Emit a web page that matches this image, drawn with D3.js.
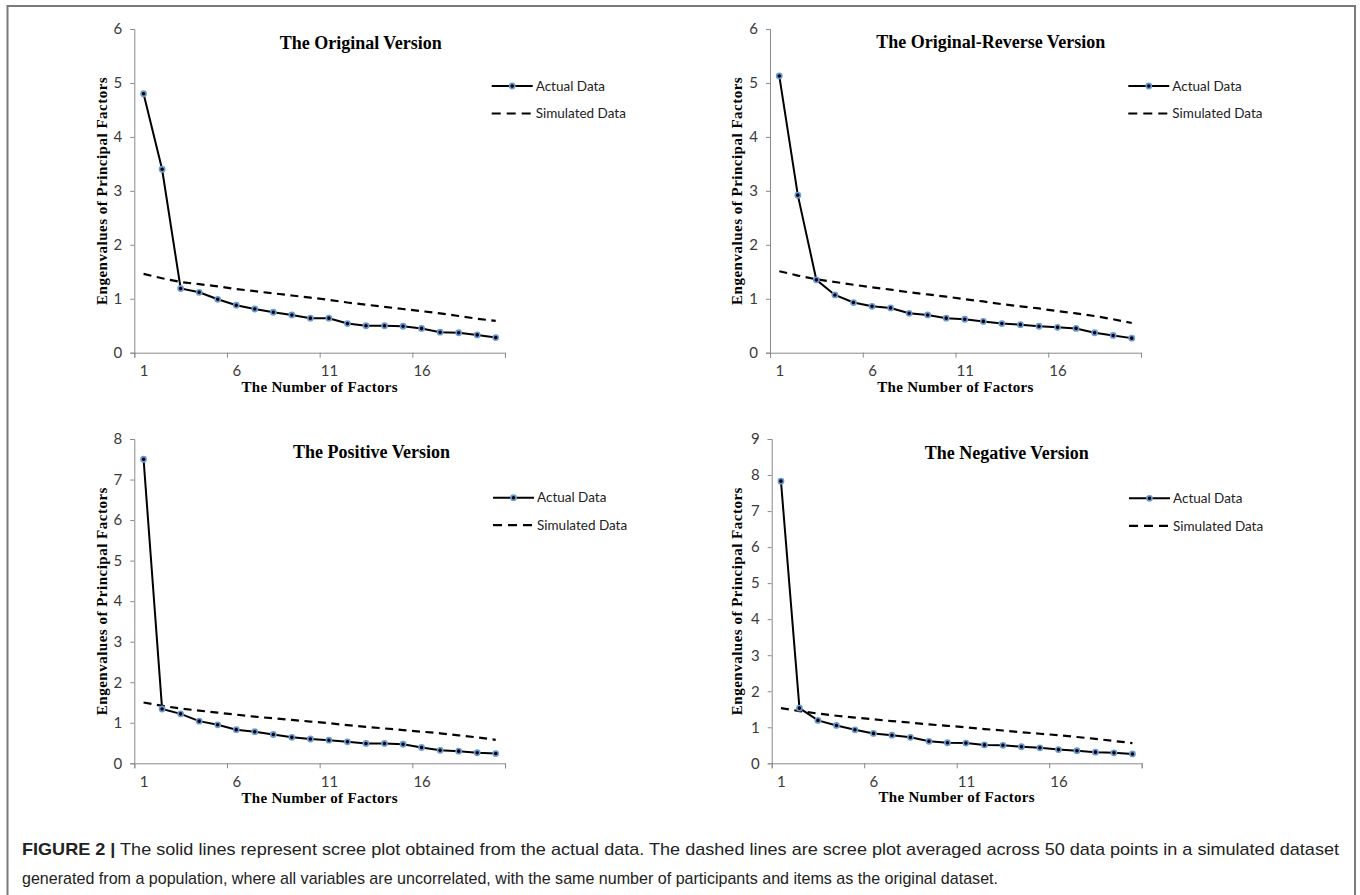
<!DOCTYPE html>
<html>
<head>
<meta charset="utf-8">
<script src="https://cdn.jsdelivr.net/npm/d3@7"></script>
<style>
  body { margin: 0; background: #fff; }
  svg { display: block; }
</style>
</head>
<body>
<svg id="fig" width="1360" height="895"></svg>
<script>
// data
var factors = [1, 2, 3, 4, 5, 6, 7, 8, 9, 10, 11, 12, 13, 14, 15, 16, 17, 18, 19, 20];
var xTickLabels = [1, 6, 11, 16];
var seriesNames = ["Actual Data", "Simulated Data"];
var panelTitles = ["The Original Version", "The Original-Reverse Version", "The Positive Version", "The Negative Version"];
var yMaxes = [6, 6, 8, 9];

var originalActual = [4.80, 3.40, 1.19, 1.12, 0.99, 0.88, 0.81, 0.75, 0.70, 0.64, 0.64, 0.54, 0.50, 0.50, 0.49, 0.45, 0.38, 0.37, 0.33, 0.28];
var originalSimulated = [1.46, 1.38, 1.31, 1.27, 1.23, 1.18, 1.14, 1.10, 1.06, 1.02, 0.98, 0.93, 0.89, 0.85, 0.81, 0.77, 0.73, 0.68, 0.63, 0.59];

var reverseActual = [5.13, 2.92, 1.35, 1.07, 0.93, 0.86, 0.83, 0.73, 0.70, 0.64, 0.62, 0.58, 0.54, 0.52, 0.49, 0.47, 0.45, 0.37, 0.32, 0.27];
var reverseSimulated = [1.51, 1.43, 1.36, 1.31, 1.26, 1.21, 1.17, 1.12, 1.08, 1.04, 0.99, 0.95, 0.90, 0.86, 0.82, 0.77, 0.73, 0.68, 0.62, 0.55];

var positiveActual = [7.50, 1.34, 1.22, 1.04, 0.95, 0.83, 0.78, 0.71, 0.64, 0.60, 0.57, 0.53, 0.49, 0.49, 0.47, 0.39, 0.32, 0.30, 0.26, 0.24];
var positiveSimulated = [1.50, 1.42, 1.35, 1.30, 1.25, 1.20, 1.15, 1.11, 1.07, 1.03, 0.99, 0.94, 0.90, 0.86, 0.82, 0.78, 0.74, 0.69, 0.64, 0.58];

var negativeActual = [7.83, 1.53, 1.19, 1.05, 0.93, 0.83, 0.78, 0.72, 0.61, 0.57, 0.56, 0.51, 0.50, 0.46, 0.43, 0.38, 0.35, 0.31, 0.29, 0.26];
var negativeSimulated = [1.53, 1.45, 1.38, 1.32, 1.27, 1.22, 1.17, 1.13, 1.08, 1.04, 1.00, 0.95, 0.91, 0.86, 0.82, 0.78, 0.73, 0.68, 0.62, 0.56];

var captionBold = "FIGURE 2 |";
var captionLine1 = " The solid lines represent scree plot obtained from the actual data. The dashed lines are scree plot averaged across 50 data points in a simulated dataset";
var captionLine2 = "generated from a population, where all variables are uncorrelated, with the same number of participants and items as the original dataset.";

// layout of the four panels
var panels = [
  { actual: originalActual, sim: originalSimulated, left: 134.3, right: 505, top: 29, bottom: 352.7, titleX: 360.7, titleY: 49, legX: 491.7, legY: 86, ylabX: 106.6, xlabY: 391.5 },
  { actual: reverseActual, sim: reverseSimulated, left: 770, right: 1141, top: 29, bottom: 352.7, titleX: 990.7, titleY: 48, legX: 1128.3, legY: 86, ylabX: 741.9, xlabY: 391.5 },
  { actual: positiveActual, sim: positiveSimulated, left: 134.3, right: 505, top: 439, bottom: 763.3, titleX: 371.5, titleY: 458, legX: 493, legY: 497.7, ylabX: 106.6, xlabY: 802.5 },
  { actual: negativeActual, sim: negativeSimulated, left: 771.7, right: 1141.7, top: 439, bottom: 763.3, titleX: 1006.7, titleY: 459, legX: 1129, legY: 498.3, ylabX: 741.9, xlabY: 801.5 }
];

var svg = d3.select("#fig");
var axisColor = "#8a8a8a";
var tickFont = "Lato, 'Open Sans', sans-serif";
var serif = "'Liberation Serif', 'Times New Roman', serif";

// outer frame
svg.append("path")
  .attr("d", "M7.5,900 L7.5,6 L1355,6 L1355,900")
  .attr("fill", "none").attr("stroke", "#7a7a7a").attr("stroke-width", 2);

panels.forEach(function (p, i) {
  var g = svg.append("g");
  var x = d3.scaleLinear().domain([0.5, 20.5]).range([p.left, p.right]);
  var y = d3.scaleLinear().domain([0, yMaxes[i]]).range([p.bottom, p.top]);

  // y axis
  var yAxis = g.append("g").attr("transform", "translate(" + p.left + ",0)")
    .call(d3.axisLeft(y).ticks(yMaxes[i]).tickSize(4).tickPadding(8).tickFormat(d3.format("d")));
  // x axis: tick marks at category boundaries, labels at centres
  var xAxis = g.append("g").attr("transform", "translate(0," + p.bottom + ")")
    .call(d3.axisBottom(x).tickValues([0.5, 5.5, 10.5, 15.5, 20.5]).tickSize(5).tickFormat(""));
  var xLab = g.append("g").attr("transform", "translate(0," + p.bottom + ")")
    .call(d3.axisBottom(x).tickValues(xTickLabels).tickSize(0).tickPadding(13).tickFormat(d3.format("d")));
  xLab.select(".domain").remove();

  [yAxis, xAxis, xLab].forEach(function (a) {
    a.selectAll(".domain, line").attr("stroke", axisColor);
    a.selectAll("text").attr("fill", "#3a3a3a").style("font-family", tickFont).style("font-size", "15px");
  });

  // simulated (dashed)
  var line = d3.line().x(function (d, k) { return x(factors[k]); }).y(function (d) { return y(d); });
  g.append("path").datum(p.sim).attr("d", line)
    .attr("fill", "none").attr("stroke", "#000").attr("stroke-width", 2.2)
    .attr("stroke-dasharray", "8,5.5");

  // actual (solid with markers)
  g.append("path").datum(p.actual).attr("d", line)
    .attr("fill", "none").attr("stroke", "#000").attr("stroke-width", 2);
  g.selectAll("circle.pt").data(p.actual).enter().append("circle")
    .attr("class", "pt")
    .attr("cx", function (d, k) { return x(factors[k]); })
    .attr("cy", function (d) { return y(d); })
    .attr("r", 2.6)
    .attr("fill", "#000").attr("stroke", "#6b9bd6").attr("stroke-width", 1.6);

  // titles
  g.append("text").attr("x", p.titleX).attr("y", p.titleY).attr("text-anchor", "middle")
    .style("font-family", serif).style("font-weight", "bold").style("font-size", "18px")
    .text(panelTitles[i]);
  g.append("text").attr("x", (p.left + p.right) / 2).attr("y", p.xlabY).attr("text-anchor", "middle")
    .style("font-family", serif).style("font-weight", "bold").style("font-size", "15px")
    .style("letter-spacing", "0.3px")
    .text("The Number of Factors");
  g.append("text").attr("transform", "translate(" + p.ylabX + "," + ((p.top + p.bottom) / 2) + ") rotate(-90)")
    .attr("text-anchor", "middle")
    .style("font-family", serif).style("font-weight", "bold").style("font-size", "15px")
    .style("letter-spacing", "0.5px")
    .text("Engenvalues of  Principal Factors");

  // legend
  var lg = g.append("g").attr("transform", "translate(" + p.legX + "," + p.legY + ")");
  lg.append("line").attr("x1", 0).attr("x2", 41).attr("y1", 0).attr("y2", 0)
    .attr("stroke", "#000").attr("stroke-width", 2);
  lg.append("circle").attr("cx", 20.5).attr("cy", 0).attr("r", 2.6)
    .attr("fill", "#000").attr("stroke", "#6b9bd6").attr("stroke-width", 1.6);
  lg.append("line").attr("x1", 0).attr("x2", 41).attr("y1", 27.5).attr("y2", 27.5)
    .attr("stroke", "#000").attr("stroke-width", 2.2).attr("stroke-dasharray", "9,6");
  lg.selectAll("text").data(seriesNames).enter().append("text")
    .attr("x", 44).attr("y", function (d, k) { return k * 27.5; }).attr("dy", "0.35em")
    .attr("fill", "#222").style("font-family", tickFont).style("font-size", "13.5px")
    .text(function (d) { return d; });
});

// caption
var capFont = "'Liberation Sans Narrow', 'Liberation Sans', Arial, sans-serif";
var cap = svg.append("text").attr("x", 22).attr("y", 855)
  .attr("textLength", 1317).attr("lengthAdjust", "spacingAndGlyphs")
  .style("font-family", capFont).style("font-size", "17px").attr("fill", "#222");
cap.append("tspan").style("font-weight", "bold").text(captionBold);
cap.append("tspan").text(captionLine1);
svg.append("text").attr("x", 22).attr("y", 884)
  .attr("textLength", 976).attr("lengthAdjust", "spacingAndGlyphs")
  .style("font-family", capFont).style("font-size", "17px").attr("fill", "#222")
  .text(captionLine2);
</script>
</body>
</html>
